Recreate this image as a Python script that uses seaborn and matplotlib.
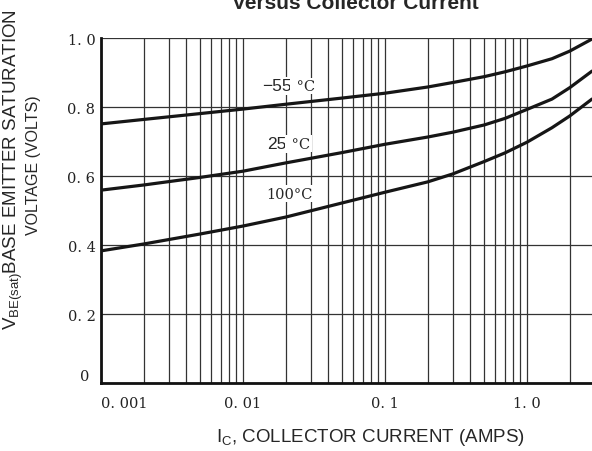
import numpy as np
import pandas as pd
import matplotlib
matplotlib.use("Agg")
import matplotlib.pyplot as plt
from matplotlib.transforms import ScaledTranslation
import seaborn as sns

# collector current (A) and base-emitter saturation voltage (V)
ic_amps = [0.001, 0.002, 0.005, 0.01, 0.02, 0.05, 0.1, 0.2, 0.3, 0.5, 0.7, 1.0, 1.5, 2.0, 2.87]
vbe_m55 = [0.751, 0.764, 0.781, 0.794, 0.808, 0.826, 0.840, 0.858, 0.871, 0.888, 0.902, 0.919, 0.940, 0.962, 0.997]
vbe_25 = [0.559, 0.574, 0.596, 0.614, 0.638, 0.668, 0.692, 0.713, 0.727, 0.748, 0.767, 0.793, 0.823, 0.856, 0.904]
vbe_100 = [0.383, 0.403, 0.432, 0.455, 0.481, 0.522, 0.553, 0.583, 0.606, 0.642, 0.667, 0.698, 0.740, 0.774, 0.823]

temps = ["-55", "25", "100"]
x_ticks = [0.001, 0.01, 0.1, 1.0]
x_ticklabels = ["0. 001", "0. 01", "0. 1", "1. 0"]
y_ticks = [0, 0.2, 0.4, 0.6, 0.8, 1.0]
y_ticklabels = ["0", "0. 2", "0. 4", "0. 6", "0. 8", "1. 0"]

df = pd.concat([
    pd.DataFrame({"ic": ic_amps, "vbe": v, "temp": t})
    for t, v in zip(temps, [vbe_m55, vbe_25, vbe_100])
])

sns.set_style("white")
plt.rcParams["font.family"] = ["Liberation Sans", "DejaVu Sans"]

fig = plt.figure(figsize=(5.92, 4.52), dpi=100)
ax = fig.add_axes([0.1706, 0.1504, 0.8294, 0.7633])

sns.lineplot(data=df, x="ic", y="vbe", hue="temp", palette=["#161616"] * 3,
             legend=False, linewidth=2.3, ax=ax, zorder=3)

ax.set_xscale("log")
ax.set_xlim(0.001, 2.87)
ax.set_ylim(0, 1.0)

ax.set_xticks(x_ticks)
ax.set_xticklabels(x_ticklabels, family="DejaVu Serif", fontsize=10.5, color="#222222")
ax.xaxis.set_minor_locator(matplotlib.ticker.LogLocator(base=10, subs=np.arange(2, 10)))
ax.xaxis.set_minor_formatter(matplotlib.ticker.NullFormatter())
ax.set_yticks(y_ticks)
ax.set_yticklabels(y_ticklabels, family="DejaVu Serif", fontsize=10.5, color="#222222")
ax.get_xticklabels()[0].set_horizontalalignment("left")
ax.tick_params(axis="x", which="both", length=0, pad=9)
ax.tick_params(axis="y", which="both", length=0, pad=4)

# the "0" label sits a bit higher and further left in the original
zero_lbl = ax.get_yticklabels()[0]
zero_lbl.set_transform(zero_lbl.get_transform()
                       + ScaledTranslation(-0.06, 0.09, fig.dpi_scale_trans))

ax.grid(True, which="both", axis="x", color="#333333", linewidth=0.9)
ax.grid(True, which="major", axis="y", color="#333333", linewidth=0.9)
ax.set_axisbelow(True)

for s in ["top", "right"]:
    ax.spines[s].set_visible(False)
for s in ["left", "bottom"]:
    ax.spines[s].set_color("#111111")
    ax.spines[s].set_linewidth(2)

ax.set_xlabel("")
ax.set_ylabel("")

# curve labels (sans number, serif degree sign, white box behind)
box = dict(facecolor="white", edgecolor="none", pad=1)
ax.text(0.0221, 0.861, "\u221255", ha="right", va="center", fontsize=12.5, bbox=box, zorder=4)
ax.text(0.0221, 0.861, " \u00b0C", ha="left", va="center", fontsize=10.5,
        family="DejaVu Serif", bbox=box, zorder=4)
ax.text(0.0204, 0.693, "25", ha="right", va="center", fontsize=12.5, bbox=box, zorder=4)
ax.text(0.0204, 0.693, " \u00b0C", ha="left", va="center", fontsize=10.5,
        family="DejaVu Serif", bbox=box, zorder=4)
ax.text(0.0214, 0.548, "100\u00b0C", ha="center", va="center", fontsize=10.5,
        family="DejaVu Serif", bbox=box, zorder=4)

# axis titles and the cut-off chart title
fig.text(0.601, 0.980, "Versus Collector Current", ha="center", va="baseline",
         fontsize=15, fontweight="bold")
fig.text(0.625, 0.031, r"$\mathregular{I_C}$, COLLECTOR CURRENT (AMPS)", ha="center",
         va="center", fontsize=13.5)
fig.text(0.022, 0.624, r"$\mathregular{V_{BE(sat)}}$BASE EMITTER SATURATION", rotation=90,
         ha="center", va="center", fontsize=13.5)
fig.text(0.056, 0.635, "VOLTAGE (VOLTS)", rotation=90, ha="center", va="center",
         fontsize=11.5)

fig.savefig("out.png", dpi=100)
